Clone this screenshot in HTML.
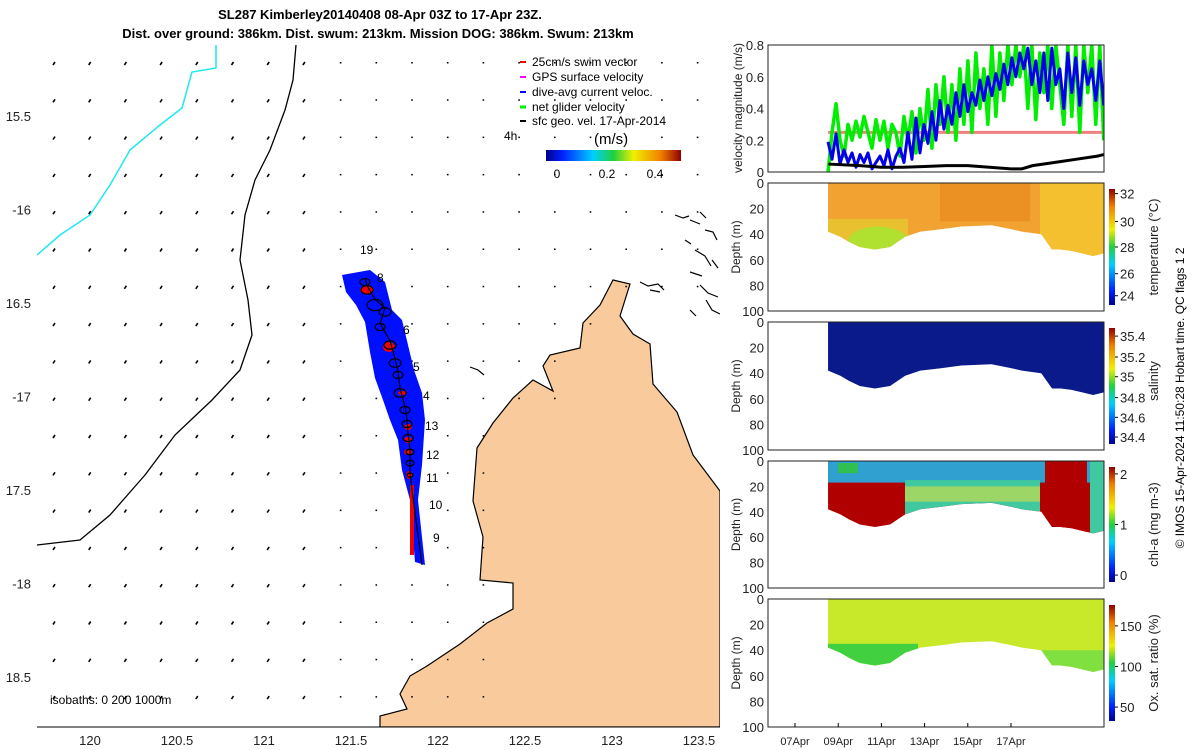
<!DOCTYPE html>
<html><head><meta charset="utf-8"><style>
html,body{margin:0;padding:0;background:#fff}
svg{display:block;font-family:"Liberation Sans","DejaVu Sans",sans-serif}
</style></head><body>
<svg id="s" width="1200" height="750" viewBox="0 0 1200 750" xmlns="http://www.w3.org/2000/svg">
<defs>
<linearGradient id="jet" x1="0" x2="1" y1="0" y2="0">
<stop offset="0" stop-color="#00008f"/><stop offset="0.12" stop-color="#0020ff"/><stop offset="0.35" stop-color="#00d0ff"/><stop offset="0.5" stop-color="#20d040"/><stop offset="0.65" stop-color="#f0f000"/><stop offset="0.85" stop-color="#f08000"/><stop offset="1" stop-color="#900000"/></linearGradient>
<linearGradient id="jetv" x1="0" x2="0" y1="1" y2="0">
<stop offset="0" stop-color="#00008f"/><stop offset="0.12" stop-color="#0020ff"/><stop offset="0.35" stop-color="#00d0ff"/><stop offset="0.5" stop-color="#20d040"/><stop offset="0.65" stop-color="#f0f000"/><stop offset="0.85" stop-color="#f08000"/><stop offset="1" stop-color="#900000"/></linearGradient>
<clipPath id="mapclip"><rect x="37" y="45" width="683" height="682"/></clipPath>
</defs>

<text x="380" y="19" text-anchor="middle" font-size="13" font-weight="bold">SL287 Kimberley20140408 08-Apr 03Z to 17-Apr 23Z.</text>
<text x="378" y="38" text-anchor="middle" font-size="13" font-weight="bold">Dist. over ground: 386km. Dist. swum: 213km. Mission DOG: 386km. Swum: 213km</text>

<g id="map">
<g clip-path="url(#mapclip)">
<path fill="#f9cb9c" stroke="#000" stroke-width="1.2" d="M720,491 L693,455 L677,412 L653,384 L650,344 L633,334 L620,316 L630,284 L613,280 L600,305 L583,323 L580,348 L550,355 L543,366 L553,391 L533,380 L513,398 L493,423 L477,448 L473,501 L483,537 L480,580 L513,583 L513,609 L487,623 L460,644 L427,666 L410,676 L400,694 L407,709 L380,716 L380,727 L720,727 Z"/>
<g fill="none" stroke="#000" stroke-width="1.2">
<path d="M675,215 l8,3 l6,-2 M690,220 l10,4 M700,212 l6,6 M705,230 l8,2 l4,8 M685,240 l6,4 M695,250 l10,6 l6,10 M712,260 l6,8 M690,272 l12,4 M700,285 l8,8 l10,4 M706,300 l6,10 l8,4 M690,310 l6,6 M640,282 l8,4 l10,-2 l6,6 M650,290 l10,2 M470,367 l8,3 l6,5"/>
</g>
<path fill="none" stroke="#000" stroke-width="1.3" d="M296,45 L293,80 L285,110 L270,150 L255,180 L245,215 L240,260 L248,300 L252,335 L240,370 L212,400 L175,435 L145,475 L110,515 L80,540 L37,545"/>
<path fill="none" stroke="#20e8f0" stroke-width="1.5" d="M216,45 L216,68 L192,72 L182,108 L160,125 L130,150 L110,185 L90,215 L60,235 L37,255"/>
<g id="vec"></g>
<path fill="#0010ff" d="M342,275 L370,270 L385,282 L392,310 L402,320 L414,370 L422,393 L425,420 L422,465 L418,500 L425,565 L415,562 L410,500 L402,470 L398,440 L390,420 L383,400 L375,378 L370,352 L365,322 L356,305 L346,292 Z"/>
<g fill="#f00000">
<ellipse cx="367" cy="290" rx="7" ry="4"/><ellipse cx="389" cy="347" rx="6" ry="5"/><ellipse cx="402" cy="393" rx="4" ry="2"/><ellipse cx="408" cy="427" rx="4" ry="3"/><ellipse cx="408" cy="440" rx="4" ry="3"/><ellipse cx="408" cy="452" rx="4" ry="3"/><ellipse cx="409" cy="475" rx="3" ry="4"/><rect x="410" y="485" width="4" height="70"/>
</g>
<path id="track" fill="none" stroke="#000" stroke-width="1.2"/>
<g font-size="12">
<text x="360" y="254">19</text><text x="377" y="282">8</text><text x="403" y="334">6</text><text x="413" y="371">5</text><text x="423" y="400">4</text><text x="425" y="430">13</text><text x="426" y="459">12</text><text x="426" y="482">11</text><text x="429" y="509">10</text><text x="433" y="542">9</text>
</g>
</g>
<line x1="37" y1="727" x2="720" y2="727" stroke="#000"/>
<g id="mapticks" font-size="13" fill="#222"></g>
<text x="50" y="704" font-size="12">isobaths: 0  200  1000m</text>
<g font-size="12">
<line x1="520" y1="62" x2="526" y2="62" stroke="#f00" stroke-width="2"/><text x="532" y="66">25cm/s swim vector</text>
<line x1="520" y1="77" x2="526" y2="77" stroke="#f0f" stroke-width="2"/><text x="532" y="81">GPS surface velocity</text>
<line x1="520" y1="92" x2="526" y2="92" stroke="#00f" stroke-width="2"/><text x="532" y="96">dive-avg current veloc.</text>
<line x1="520" y1="107" x2="526" y2="107" stroke="#0e0" stroke-width="3"/><text x="532" y="111">net glider velocity</text>
<line x1="520" y1="121" x2="526" y2="121" stroke="#000" stroke-width="2"/><text x="532" y="125">sfc geo. vel. 17-Apr-2014</text>
<text x="504" y="140">4h</text>
<text x="594" y="144" font-size="15">(m/s)</text>
<rect x="546" y="150" width="135" height="11" fill="url(#jet)"/>
<text x="557" y="178" text-anchor="middle">0</text><text x="607" y="178" text-anchor="middle">0.2</text><text x="655" y="178" text-anchor="middle">0.4</text>
</g>
</g>

<g id="right"></g>
<text transform="translate(1184,398) rotate(-90)" text-anchor="middle" font-size="12">© IMOS 15-Apr-2024 11:50:28 Hobart time. QC flags 1  2</text>

<script>
const velStart = 1.53, velStep = 0.185;
const greenVel = [0,0.25,0.43,0.2,0.1,0.3,0.2,0.32,0.22,0.35,0.25,0.15,0.33,0.2,0.32,0.15,0.3,0.25,0.1,0.35,0.2,0.38,0.12,0.4,0.2,0.52,0.15,0.55,0.3,0.6,0.25,0.55,0.2,0.65,0.3,0.7,0.25,0.75,0.4,0.65,0.3,0.8,0.35,0.75,0.45,0.8,0.55,0.8,0.6,0.8,0.4,0.8,0.33,0.75,0.5,0.8,0.4,0.8,0.55,0.3,0.8,0.35,0.8,0.25,0.8,0.5,0.8,0.3,0.8,0.2];
const blueVel = [0.19,0.08,0.24,0.05,0.14,0.06,0.12,0.03,0.11,0.06,0.12,0.02,0.06,0.1,0.04,0.14,0.02,0.1,0.15,0.06,0.25,0.08,0.34,0.12,0.3,0.18,0.38,0.2,0.45,0.27,0.42,0.3,0.5,0.35,0.55,0.38,0.5,0.42,0.58,0.45,0.6,0.48,0.62,0.52,0.68,0.55,0.72,0.6,0.75,0.65,0.78,0.55,0.7,0.5,0.75,0.45,0.78,0.55,0.65,0.4,0.75,0.5,0.72,0.42,0.7,0.55,0.65,0.45,0.7,0.42];
const sfcDays = [1.55,3,4,5,6,7,8,9,10,10.5,11,12,13,14,14.3];
const sfcVel = [0.05,0.04,0.03,0.03,0.035,0.04,0.04,0.03,0.02,0.02,0.04,0.06,0.08,0.1,0.11];
const swimVel = 0.25;
const velTicks = [0,0.2,0.4,0.6,0.8];
const depthTicks = [0,20,40,60,80,100];
const dateLabels = ['07Apr','09Apr','11Apr','13Apr','15Apr','17Apr'];
const dateDays = [0,2,4,6,8,10];
const profDays = [1.53,2.1,2.5,3.0,3.7,4.4,5.1,5.8,6.8,7.7,9.1,10.0,10.5,11.4,11.9,12.3,12.8,13.3,13.8,14.3];
const profDepth = [38,42,46,50,52,50,42,38,36,34,33,36,38,40,52,52,53,55,57,55];
const lonTicks = [120,120.5,121,121.5,122,122.5,123,123.5];
const latTicks = [15.5,16,16.5,17,17.5,18,18.5];
const latLabels = ['15.5','-16','16.5','-17','17.5','-18','18.5'];
// glider track loop centres (lon, lat)
const loopLon = [121.580,121.592,121.638,121.695,121.667,121.724,121.753,121.770,121.782,121.810,121.822,121.828,121.839,121.839,121.839];
const loopLat = [16.388,16.430,16.511,16.548,16.628,16.725,16.821,16.885,16.981,17.072,17.147,17.222,17.297,17.356,17.420];
const loopR = [5,6,8,6,5,6,6,5,6,5,5,5,4,4,3];
const endLon = 121.908, endLat = 17.901;

const NS='http://www.w3.org/2000/svg';
function mk(tag,attrs,parent,txt){const e=document.createElementNS(NS,tag);for(const k in attrs)e.setAttribute(k,attrs[k]);if(txt!==undefined)e.textContent=txt;parent.appendChild(e);return e;}
const lonX = l => 90 + (l-120)*174;
const latY = l => 116 + (l-15.5)*187;
const dayX = d => 795 + d*21.6;

let d='';
loopLon.forEach((l,i)=>{const x=lonX(l),y=latY(loopLat[i]),r=loopR[i];
 d+=(i?' L':'M')+x+','+(y-r*0.7)+' a'+r+','+r*0.7+' 0 1 0 0.1,0';});
d+=' L'+(lonX(loopLon[loopLon.length-1])+2)+','+(latY(loopLat[loopLat.length-1])+15)+' L'+lonX(endLon)+','+latY(endLat);
document.getElementById('track').setAttribute('d',d);

const mt=document.getElementById('mapticks');
lonTicks.forEach(l=>{const t=mk('text',{x:lonX(l),y:745,'text-anchor':'middle'},mt,String(l));

});
latTicks.forEach((l,i)=>{const t=mk('text',{x:31,y:latY(l)+5,'text-anchor':'end'},mt,latLabels[i]);

});

const vg=document.getElementById('vec');
for(let i=0;i<19;i++){for(let j=0;j<18;j++){
 const x=55+i*35.7, y=62+j*37.3;
 const onLand = (x>485 && y>420) || (x>560 && y>340) || (x>620 && y>300);
 if(onLand) continue;
 const left = x<320;
 const ln=mk('line',{x1:x,y1:y,x2:left?x-2:x,y2:left?y+3:y+1.5,stroke:'#000','stroke-width':1.6},vg);
 
 
}}

const R=document.getElementById('right');
const X0=768,X1=1104;
const panels=[{y:45,h:127},{y:183,h:128},{y:322,h:128},{y:461,h:127},{y:599,h:128}];
const vp=panels[0]; const vy=v=>vp.y+vp.h-(v/0.8)*vp.h;
const vclip=mk('clipPath',{id:'vclip'},R); mk('rect',{x:X0,y:vp.y,width:X1-X0,height:vp.h},vclip);
const vgp=mk('g',{'clip-path':'url(#vclip)'},R);
const sw=mk('line',{x1:dayX(1.53),x2:X1,y1:vy(swimVel),y2:vy(swimVel),stroke:'#f08080','stroke-width':3},vgp);


function series(vals,col,w,name){const pts=vals.map((v,i)=>[Math.min(dayX(velStart+i*velStep),X1),vy(v)]);
 const p=mk('polyline',{points:pts.map(p=>p.join(',')).join(' '),fill:'none',stroke:col,'stroke-width':w,'stroke-linejoin':'round'},vgp);
 
 }
series(greenVel,'#00ee00',3.5,'net-glider-velocity-line');
series(blueVel,'#0000ee',3,'dive-avg-current-line');
const sp=mk('polyline',{points:sfcDays.map((d,i)=>dayX(d)+','+vy(sfcVel[i])).join(' '),fill:'none',stroke:'#000','stroke-width':3},vgp);


velTicks.forEach(v=>{const t=mk('text',{x:764,y:vy(v)+5,'text-anchor':'end','font-size':13,fill:'#222'},R,String(v));

});
mk('text',{transform:'translate(742,108) rotate(-90)','text-anchor':'middle','font-size':12,fill:'#222'},R,'velocity magnitude (m/s)');

const secs=[
 {name:'temperature',fill:'#f2a230',label:'temperature (°C)',ticks:['32','30','28','26','24'],tf:[0.04,0.28,0.5,0.73,0.92]},
 {name:'salinity',fill:'#0a1a8a',label:'salinity',ticks:['35.4','35.2','35','34.8','34.6','34.4'],tf:[0.07,0.25,0.42,0.6,0.77,0.94]},
 {name:'chl-a',fill:'#b00000',label:'chl-a (mg m-3)',ticks:['2','1','0'],tf:[0.06,0.5,0.94]},
 {name:'oxygen',fill:'#c8e82a',label:'Ox. sat. ratio (%)',ticks:['150','100','50'],tf:[0.18,0.53,0.88]}
];
secs.forEach((s,k)=>{
 const p=panels[k+1]; const dy=d=>p.y+d/100*p.h;
 const cid='sc'+k; const cp=mk('clipPath',{id:cid},R);
 const pts=[[dayX(profDays[0]),p.y]].concat(profDays.map((d,i)=>[Math.min(dayX(d),X1),dy(profDepth[i])])).concat([[X1,p.y]]);
 mk('polygon',{points:pts.map(q=>q.join(',')).join(' ')},cp);
 const g=mk('g',{'clip-path':'url(#'+cid+')'},R);
 
 
 mk('rect',{x:X0,y:p.y,width:X1-X0,height:p.h,fill:s.fill},g);
 if(k===0){mk('rect',{x:828,y:dy(28),width:80,height:p.h*0.3,fill:'#e8c030'},g);mk('ellipse',{cx:878,cy:dy(46),rx:30,ry:p.h*0.12,fill:'#b0e030'},g);mk('rect',{x:1040,y:p.y,width:64,height:p.h,fill:'#f5c030'},g);mk('rect',{x:940,y:p.y,width:90,height:p.h*0.3,fill:'#e88a20',opacity:0.7},g);}
 if(k===2){mk('rect',{x:X0,y:p.y,width:X1-X0,height:p.h*0.17,fill:'#30a0d0'},g);
  mk('rect',{x:905,y:dy(15),width:135,height:p.h*0.5,fill:'#40c8a0'},g);
  mk('rect',{x:905,y:dy(20),width:135,height:p.h*0.12,fill:'#d8e040',opacity:0.6},g);
  mk('rect',{x:838,y:p.y+2,width:20,height:p.h*0.08,fill:'#30c050'},g);
  mk('rect',{x:1090,y:p.y,width:14,height:p.h,fill:'#40c8a0'},g);
  mk('rect',{x:1045,y:p.y,width:42,height:p.h,fill:'#b00000'},g);}
 if(k===3){mk('rect',{x:828,y:dy(35),width:90,height:p.h*0.2,fill:'#40d040'},g);mk('rect',{x:1040,y:dy(40),width:64,height:p.h*0.2,fill:'#80e040'},g);}
 depthTicks.forEach(d=>{const t=mk('text',{x:764,y:dy(d)+5,'text-anchor':'end','font-size':13,fill:'#222'},R,String(d));
 
 });
 mk('text',{transform:'translate(740,'+(p.y+p.h/2)+') rotate(-90)','text-anchor':'middle','font-size':12,fill:'#222'},R,'Depth (m)');
 const cb=mk('rect',{x:1109,y:p.y+6,width:6,height:p.h-12,fill:'url(#jetv)'},R);
 
 
 s.ticks.forEach((t,i)=>{const ty=p.y+6+s.tf[i]*(p.h-12);mk('line',{x1:1115,x2:1118,y1:ty,y2:ty,stroke:'#000'},R);
  mk('text',{x:1120,y:ty+5,'font-size':13,fill:'#222'},R,t);});
 mk('text',{transform:'translate(1158,'+(p.y+p.h/2+(k==1?-5:0))+') rotate(-90)','text-anchor':'middle','font-size':13,fill:'#222'},R,s.label);
});
panels.forEach(p=>{mk('rect',{x:X0,y:p.y,width:X1-X0,height:p.h,fill:'none',stroke:'#222','stroke-width':1},R);});
dateDays.forEach((d,i)=>{mk('line',{x1:dayX(d),x2:dayX(d),y1:727,y2:723,stroke:'#000'},R);
 const t=mk('text',{x:dayX(d),y:745,'text-anchor':'middle','font-size':11,fill:'#222'},R,dateLabels[i]);
 
 });
</script>
</svg>
</body></html>
